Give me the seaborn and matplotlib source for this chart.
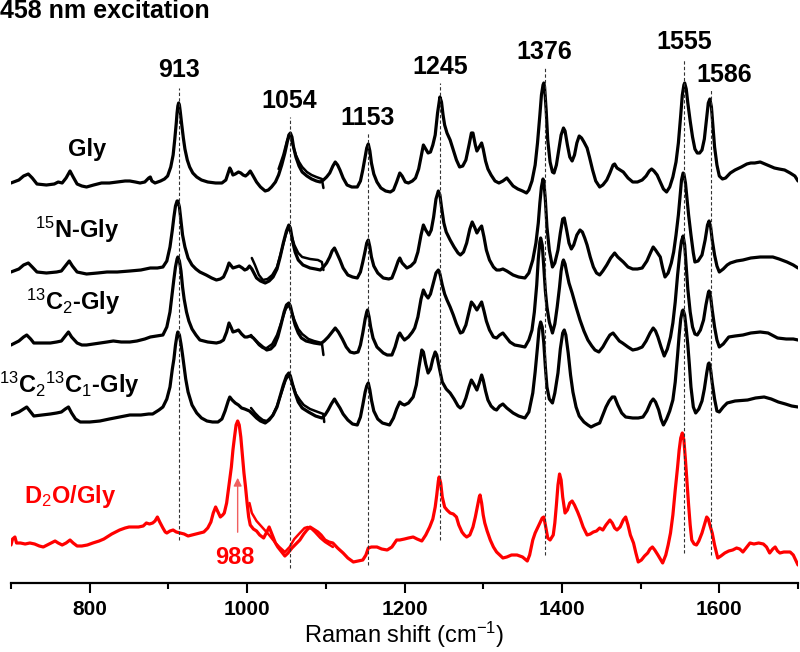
import numpy as np
import matplotlib
matplotlib.use("Agg")
import matplotlib.pyplot as plt
from matplotlib.ticker import MultipleLocator
import seaborn as sns

# Spectra: (Raman shift in cm-1, intensity in a.u.)
gly = [(700,12),(710,15),(716,19),(722,21),(727,17),(733,11),(745,10),(755,11),(760,13),(765,12),
       (770,17),(775,24),(779,18),(784,11),(790,9),(796,8),(805,10),(815,12),(825,12),(835,13),
       (845,14),(851,14),(858,13),(864,12),(870,13),(875,17),(877,18),(879,14),(883,12),(890,14),
       (895,16),(899,19),(903,28),(906,40),(908,55),(910,72),(911,82),(912,89),(913,92),(914,90),
       (915,84),(917,70),(919,57),(921,46),(924,35),(927,28),(931,22),(936,18),(942,15),(950,13),
       (960,12),(968,12),(973,15),(976,22),(978,27),(980,24),(982,20),(985,21),(989,23),(992,22),
       (995,20),(998,19),(1001,21),(1004,24),(1007,20),(1012,13),(1017,8),(1023,4),(1027,5),
       (1031,8),(1036,13),(1040,20),(1044,30),(1048,42),(1051,53),(1053,60),(1055,62),(1057,58),
       (1059,48),(1062,38),(1066,29),(1070,23),(1076,19),(1082,16),(1088,14),(1093,13),(1097,15),
       (1101,18),(1105,22),(1109,29),(1112,33),(1115,30),(1118,25),(1122,17),(1127,10),(1133,8),
       (1140,8),(1144,14),(1147,25),(1150,38),(1152,47),(1154,51),(1156,44),(1158,32),(1161,21),
       (1165,13),(1170,7),(1176,4),(1182,3),(1186,5),(1190,13),(1194,22),(1197,19),(1201,13),
       (1205,12),(1210,14),(1214,17),(1218,26),(1221,38),(1224,50),(1227,46),(1230,42),(1233,43),
       (1236,50),(1239,60),(1242,82),(1245,98),(1247,93),(1249,80),(1251,70),(1254,62),(1258,55),
       (1262,45),(1266,35),(1270,28),(1274,29),(1278,35),(1282,50),(1285,62),(1287,62),(1290,50),
       (1292,44),(1295,48),(1298,52),(1300,46),(1303,34),(1306,26),(1310,20),(1315,14),(1320,12),
       (1325,14),(1330,17),(1334,13),(1338,9),(1344,6),(1350,4),(1355,2),(1358,5),(1362,14),
       (1366,30),(1369,52),(1372,80),(1374,100),(1376,110),(1377,112),(1378,108),(1380,85),
       (1382,55),(1385,33),(1388,23),(1390,22),(1393,30),(1396,45),(1399,60),(1402,67),(1404,64),
       (1407,50),(1410,38),(1413,34),(1416,40),(1419,52),(1422,59),(1425,57),(1428,53),(1432,47),
       (1435,38),(1439,25),(1443,14),(1448,8),(1452,10),(1457,15),(1461,22),(1465,30),(1467,31),
       (1470,27),(1474,25),(1478,23),(1484,17),(1490,13),(1496,13),(1502,15),(1507,19),(1511,24),
       (1514,26),(1517,24),(1521,20),(1525,13),(1529,6),(1533,3),(1537,8),(1541,18),(1545,33),
       (1548,52),(1551,80),(1553,100),(1555,110),(1556,112),(1558,106),(1560,92),(1563,74),
       (1566,58),(1569,46),(1572,42),(1575,42),(1578,45),(1581,56),(1584,78),(1586,92),(1588,96),
       (1590,88),(1592,68),(1594,48),(1597,30),(1600,19),(1604,16),(1608,17),(1614,22),(1620,25),
       (1628,28),(1635,31),(1640,32),(1645,32),(1652,33),(1658,31),(1664,29),(1670,27),(1676,26),
       (1683,25),(1690,22),(1696,19),(1700,14)]
gly_overlap = [(1040,26),(1046,40),(1051,55),(1054,60),(1058,50),(1062,40),(1066,33),(1070,28),
               (1076,23),(1082,20),(1088,18),(1095,16),(1097,7)]

n15_gly = [(700,13),(710,16),(716,20),(722,22),(727,18),(733,13),(745,12),(758,13),(764,14),(769,19),
           (774,24),(778,19),(784,13),(790,12),(796,11),(810,12),(822,13),(835,13),(851,14),(865,15),
           (877,17),(886,17),(893,18),(898,24),(902,38),(905,55),(907,68),(909,79),(911,84),(912,84),
           (914,78),(916,64),(918,50),(921,38),(925,27),(930,20),(935,16),(940,13),(948,10),(955,7),
           (961,5),(966,6),(970,8),(974,15),(977,22),(980,19),(982,17),(986,18),(990,19),(994,17),
           (997,15),(1000,16),(1003,19),(1006,16),(1012,7),(1017,4),(1023,2),(1028,4),(1033,8),
           (1038,16),(1042,28),(1046,42),(1050,54),(1053,60),(1055,57),(1058,43),(1061,33),(1065,25),
           (1071,20),(1080,17),(1087,16),(1093,15),(1097,18),(1101,22),(1105,28),(1108,34),(1111,37),
           (1114,32),(1118,25),(1122,17),(1128,10),(1134,8),(1140,7),(1144,13),(1147,23),(1150,34),
           (1152,42),(1154,45),(1156,38),(1158,28),(1161,19),(1166,12),(1173,7),(1180,6),(1184,7),
           (1188,15),(1192,24),(1194,27),(1197,22),(1203,17),(1208,19),(1213,23),(1217,33),(1221,50),
           (1224,60),(1227,55),(1231,50),(1234,55),(1237,68),(1240,86),(1243,94),(1245,90),(1247,78),
           (1250,62),(1253,53),(1258,45),(1263,38),(1268,32),(1271,30),(1275,33),(1279,42),(1283,56),
           (1286,63),(1289,58),(1292,52),(1295,56),(1298,59),(1301,48),(1304,35),(1308,25),(1313,18),
           (1317,15),(1321,15),(1325,16),(1330,14),(1338,10),(1345,8),(1353,7),(1358,12),(1363,25),
           (1367,42),(1370,62),(1372,82),(1374,98),(1376,106),(1377,104),(1379,85),(1381,58),
           (1384,35),(1388,18),(1391,22),(1395,35),(1398,52),(1401,66),(1403,67),(1406,55),(1409,42),
           (1412,36),(1415,40),(1419,50),(1423,55),(1426,53),(1429,47),(1432,40),(1436,28),(1440,18),
           (1444,12),(1448,10),(1452,14),(1457,20),(1462,27),(1467,32),(1471,28),(1478,23),(1484,18),
           (1490,16),(1496,16),(1502,17),(1508,24),(1513,33),(1516,38),(1519,35),(1525,28),(1528,17),
           (1531,8),(1535,12),(1539,22),(1542,33),(1545,50),(1548,70),(1550,88),(1552,105),(1554,112),
           (1555,111),(1557,102),(1559,86),(1561,70),(1564,50),(1567,32),(1569,23),(1573,24),
           (1578,30),(1582,45),(1585,60),(1587,64),(1589,58),(1591,45),(1594,30),(1597,19),(1600,13),
           (1605,16),(1610,20),(1614,22),(1622,24),(1630,25),(1640,27),(1652,28),(1660,28),(1668,28),
           (1676,26),(1686,23),(1694,20),(1700,17)]
n15_overlap = [(1006,27),(1010,20),(1015,10),(1020,5),(1026,6),(1032,10),(1038,18),(1044,35),
               (1049,50),(1053,58),(1057,48),(1060,40),(1065,32),(1070,28),(1080,26),(1090,25),
               (1095,23),(1097,15)]

c13_gly = [(700,12),(710,16),(716,20),(720,22),(725,18),(729,14),(740,14),(750,14),(758,15),(764,16),
           (769,21),(773,25),(777,20),(784,14),(790,12),(796,12),(805,13),(813,14),(822,15),(830,16),
           (840,15),(851,15),(860,16),(870,18),(877,20),(885,21),(893,22),(898,30),(902,45),(905,65),
           (907,78),(909,90),(911,98),(912,100),(914,96),(916,86),(918,70),(920,58),(923,45),(926,36),
           (930,28),(935,22),(940,17),(950,15),(961,14),(966,15),(970,17),(974,25),(977,34),(980,29),
           (982,25),(986,26),(989,27),(993,23),(997,20),(1000,20),(1004,21),(1008,19),(1014,14),
           (1020,10),(1025,7),(1030,8),(1035,12),(1039,20),(1043,32),(1047,45),(1050,52),(1053,54),
           (1055,51),(1058,41),(1061,32),(1065,24),(1069,19),(1075,16),(1085,14),(1093,13),(1098,16),
           (1103,20),(1108,25),(1112,29),(1116,25),(1121,18),(1126,10),(1131,5),(1136,4),(1141,5),
           (1144,12),(1147,24),(1150,38),(1152,45),(1153,47),(1155,40),(1157,30),(1160,19),(1165,10),
           (1173,4),(1178,2),(1184,2),(1188,10),(1192,21),(1194,24),(1197,20),(1200,17),(1205,20),
           (1210,25),(1213,29),(1217,40),(1221,58),(1224,67),(1227,62),(1230,59),(1233,63),(1237,75),
           (1240,84),(1243,87),(1245,83),(1248,72),(1251,63),(1254,57),(1258,50),(1262,42),(1266,33),
           (1271,24),(1274,25),(1278,32),(1282,45),(1285,55),(1288,52),(1292,47),(1295,51),(1298,55),
           (1301,46),(1304,36),(1308,27),(1313,20),(1317,19),(1321,22),(1325,24),(1329,20),(1334,15),
           (1340,12),(1347,11),(1353,10),(1358,17),(1362,27),(1365,45),(1368,72),(1370,98),(1372,115),
           (1373,119),(1375,112),(1377,90),(1379,66),(1381,50),(1384,35),(1388,24),(1391,33),
           (1394,50),(1397,70),(1399,86),(1401,95),(1402,97),(1404,93),(1406,85),(1409,74),(1413,64),
           (1418,50),(1423,37),(1428,26),(1433,17),(1438,11),(1442,7),(1447,5),(1452,10),(1457,17),
           (1461,22),(1465,24),(1469,20),(1473,16),(1477,14),(1484,10),(1490,7),(1496,8),(1502,10),
           (1507,16),(1512,24),(1516,29),(1519,26),(1522,20),(1526,10),(1530,1),(1534,8),(1538,20),
           (1541,34),(1544,55),(1547,82),(1550,105),(1552,116),(1554,121),(1556,112),(1558,90),
           (1560,68),(1563,45),(1566,30),(1569,23),(1572,22),(1576,27),(1580,37),(1583,52),(1586,64),
           (1587,66),(1589,60),(1591,47),(1594,30),(1597,17),(1600,10),(1605,13),(1612,20),(1620,21),
           (1630,22),(1640,24),(1652,25),(1662,24),(1674,19),(1685,18),(1694,18),(1700,17)]
c13_overlap = [(1005,22),(1010,17),(1015,12),(1020,9),(1025,9),(1032,13),(1038,22),(1044,36),
               (1049,48),(1053,52),(1057,44),(1060,37),(1065,28),(1070,23),(1078,18),(1085,16),
               (1095,14),(1097,2)]

c13c13_gly = [(700,12),(710,15),(716,18),(720,20),(725,15),(729,11),(740,12),(750,13),(758,14),
              (764,15),(769,18),(773,20),(777,14),(782,8),(788,5),(800,5),(813,6),(825,8),(838,10),
              (851,12),(865,12),(875,13),(880,13),(888,17),(893,20),(898,28),(902,40),(905,58),
              (907,68),(909,82),(911,92),(912,95),(914,92),(916,83),(918,72),(920,60),(922,48),
              (925,35),(930,22),(936,14),(942,9),(949,6),(956,5),(963,5),(968,8),(972,16),(976,26),
              (978,30),(981,27),(985,24),(989,22),(993,19),(997,18),(1000,17),(1003,16),(1007,13),
              (1012,9),(1017,6),(1023,4),(1028,7),(1033,12),(1038,20),(1042,31),(1046,42),(1050,51),
              (1053,54),(1055,51),(1058,42),(1061,34),(1065,25),(1070,19),(1078,15),(1087,11),
              (1095,9),(1099,12),(1103,17),(1107,23),(1111,28),(1114,24),(1118,19),(1122,13),
              (1128,7),(1134,3),(1140,2),(1144,10),(1147,22),(1150,35),(1152,41),(1154,44),(1156,37),
              (1158,27),(1161,16),(1166,8),(1172,4),(1181,2),(1186,9),(1190,18),(1194,25),(1197,23),
              (1200,22),(1205,24),(1211,30),(1215,42),(1218,58),(1222,77),(1224,75),(1227,63),
              (1230,54),(1233,58),(1236,68),(1239,75),(1241,72),(1244,60),(1248,45),(1253,38),
              (1258,34),(1263,28),(1268,21),(1271,19),(1274,21),(1278,29),(1282,40),(1285,47),
              (1288,43),(1292,37),(1295,44),(1298,52),(1300,47),(1303,36),(1306,27),(1310,21),
              (1314,18),(1317,17),(1321,21),(1325,23),(1330,19),(1338,14),(1345,11),(1353,9),
              (1358,15),(1363,34),(1366,55),(1369,80),(1371,98),(1373,105),(1375,100),(1377,84),
              (1379,60),(1381,40),(1384,28),(1388,24),(1391,34),(1395,54),(1398,78),(1401,94),
              (1403,97),(1405,92),(1408,74),(1411,52),(1414,35),(1418,20),(1422,11),(1428,5),
              (1433,2),(1437,0),(1442,2),(1448,4),(1452,12),(1456,20),(1460,26),(1464,30),(1467,30),
              (1471,22),(1476,14),(1481,10),(1490,9),(1497,9),(1503,10),(1508,16),(1513,25),
              (1516,28),(1519,25),(1523,17),(1526,8),(1529,2),(1533,8),(1537,16),(1541,27),
              (1544,45),(1547,72),(1549,92),(1551,108),(1553,116),(1554,117),(1556,112),(1558,98),
              (1560,82),(1562,62),(1564,40),(1567,20),(1570,14),(1574,18),(1578,26),(1581,38),
              (1584,54),(1586,63),(1587,64),(1589,57),(1591,44),(1594,28),(1597,16),(1600,15),
              (1605,20),(1610,24),(1620,26),(1636,27),(1646,29),(1657,30),(1666,28),(1675,25),
              (1684,23),(1692,21),(1700,20)]
c13c13_overlap = [(1005,19),(1010,14),(1015,10),(1020,7),(1025,6),(1032,11),(1038,21),(1044,35),
                  (1049,47),(1053,52),(1057,44),(1062,33),(1067,27),(1072,22),(1080,18),(1090,15),
                  (1097,13),(1098,5)]

d2o_gly = [(700,20),(702,26),(705,28),(707,22),(712,22),(718,21),(724,22),(730,21),(736,19),(741,18),
           (746,20),(751,22),(756,24),(760,22),(765,20),(770,22),(775,25),(779,22),(784,19),(790,19),
           (797,20),(804,22),(812,24),(818,26),(822,28),(828,31),(833,33),(838,35),(845,37),(850,38),
           (855,38),(862,38),(868,39),(872,42),(876,41),(880,42),(883,44),(886,48),(889,43),(893,37),
           (896,33),(898,32),(902,34),(906,35),(910,33),(915,32),(920,31),(925,29),(930,30),(935,31),
           (940,32),(945,33),(950,37),(954,43),(957,52),(960,58),(963,53),(966,48),(969,50),(971,52),
           (974,62),(977,80),(980,98),(982,115),(984,128),(986,140),(988,144),(990,140),(992,128),
           (994,110),(996,92),(998,78),(1000,62),(1002,48),(1004,40),(1008,36),(1012,34),(1016,30),
           (1021,27),(1025,33),(1028,38),(1030,34),(1033,28),(1036,22),(1039,18),(1043,14),(1048,9),
           (1052,12),(1057,17),(1062,21),(1067,25),(1072,31),(1076,35),(1080,38),(1084,36),(1090,33),
           (1094,30),(1099,25),(1104,23),(1109,22),(1115,17),(1122,12),(1128,7),(1135,3),(1141,4),
           (1147,5),(1151,10),(1154,17),(1158,18),(1165,18),(1171,16),(1178,15),(1184,18),(1190,25),
           (1194,25),(1200,26),(1205,27),(1211,28),(1216,26),(1222,24),(1227,30),(1232,38),(1236,46),
           (1239,58),(1241,70),(1243,84),(1244,88),(1246,82),(1248,68),(1251,58),(1254,55),(1258,52),
           (1262,51),(1266,48),(1269,40),(1273,33),(1276,30),(1279,28),(1283,30),(1287,38),(1290,48),
           (1293,60),(1295,68),(1296,70),(1298,62),(1300,50),(1302,42),(1305,34),(1309,25),(1313,18),
           (1317,13),(1321,10),(1325,7),(1330,8),(1336,10),(1343,10),(1350,8),(1356,4),(1359,10),
           (1363,25),(1366,32),(1369,37),(1372,42),(1375,47),(1377,48),(1379,40),(1382,27),(1385,25),
           (1389,30),(1391,42),(1393,60),(1395,80),(1397,91),(1399,85),(1401,68),(1404,52),(1407,55),
           (1410,62),(1413,64),(1416,60),(1420,53),(1423,47),(1427,38),(1432,30),(1436,31),(1440,33),
           (1444,34),(1448,37),(1452,35),(1456,40),(1461,45),(1464,42),(1467,37),(1470,35),(1474,38),
           (1478,45),(1481,48),(1484,40),(1487,30),(1491,22),(1494,12),(1497,3),(1501,5),(1505,9),
           (1509,12),(1512,16),(1515,18),(1518,15),(1522,10),(1525,6),(1528,2),(1532,10),(1535,20),
           (1538,32),(1541,50),(1544,75),(1547,98),(1549,115),(1551,127),(1553,132),(1555,125),
           (1557,105),(1559,82),(1561,60),(1563,40),(1565,25),(1568,21),(1571,20),(1574,24),(1578,32),
           (1581,40),(1584,48),(1586,46),(1588,40),(1591,32),(1594,20),(1598,7),(1602,9),(1607,12),
           (1612,14),(1617,15),(1622,17),(1626,16),(1630,13),(1635,18),(1639,22),(1644,21),(1650,22),
           (1656,21),(1660,18),(1664,12),(1668,16),(1671,18),(1674,14),(1677,12),(1682,13),(1686,13),
           (1690,13),(1694,10),(1697,5),(1700,0)]
d2o_overlap = [(1003,62),(1006,52),(1012,44),(1020,37),(1028,30),(1035,23),(1041,18),(1048,13),
               (1054,18),(1060,26),(1067,32),(1073,37),(1077,38),(1082,36),(1086,33),(1093,27),
               (1099,23),(1109,18)]

peak_labels = ["913", "1054", "1153", "1245", "1376", "1555", "1586"]
peak_lines = [913, 1054, 1153, 1245, 1379, 1555, 1589]

spectra = [gly, n15_gly, c13_gly, c13c13_gly, d2o_gly]
overlaps = [gly_overlap, n15_overlap, c13_overlap, c13c13_overlap, d2o_overlap]

# layout (axis units = pixels above the x axis)
offsets = [388, 298, 226, 156, 18]
colors = ["black", "black", "black", "black", "#ff0000"]

sns.set_style("ticks")
plt.rcParams["font.family"] = ["Liberation Sans", "DejaVu Sans"]
plt.rcParams["text.color"] = "black"
plt.rcParams["axes.labelcolor"] = "black"
plt.rcParams["xtick.color"] = "black"
plt.rcParams["axes.edgecolor"] = "black"
plt.rcParams["mathtext.fontset"] = "custom"
plt.rcParams["mathtext.rm"] = "Liberation Sans:bold"
plt.rcParams["mathtext.bf"] = "Liberation Sans:bold"
plt.rcParams["mathtext.default"] = "rm"

fig = plt.figure(figsize=(8, 6.52), dpi=100)
ax = fig.add_axes([11/800, 1 - 583/652, 787/800, 583/652])

for spec, ovl, off, col in zip(spectra, overlaps, offsets, colors):
    x, y = np.array(spec).T
    sns.lineplot(x=x, y=y + off, color=col, lw=2.3, ax=ax, estimator=None, sort=False)
    xo, yo = np.array(ovl).T
    sns.lineplot(x=xo, y=yo + off, color=col, lw=1.8, ax=ax, estimator=None, sort=False)

# dashed marker lines and labels
line_tops = [495, 466, 450, 500, 515, 523, 493]
line_bots = [43, 15, 18, 43, 28, 30, 28]
label_x = [913, 1054, 1153, 1245, 1377, 1555, 1606]
label_y = [513, 482, 465, 516, 531, 541, 508]
for pos, top, bot in zip(peak_lines, line_tops, line_bots):
    ax.plot([pos, pos], [bot, top], ls=(0, (3, 2)), color="#333333", lw=0.8)
for lab, lx, ly in zip(peak_labels, label_x, label_y):
    ax.text(lx, ly, lab, ha="center", va="center", fontsize=18, fontweight="bold")

# spectrum names
ax.text(797, 433, "Gly", ha="center", va="center", fontsize=17, fontweight="bold")
ax.text(784, 353, r"$^{15}$N-Gly", ha="center", va="center", fontsize=17, fontweight="bold")
ax.text(779, 281, r"$^{13}$C$_2$-Gly", ha="center", va="center", fontsize=17, fontweight="bold")
ax.text(774, 198, r"$^{13}$C$_2$$^{13}$C$_1$-Gly", ha="center", va="center", fontsize=17,
        fontweight="bold")
ax.text(775, 86, r"D$_2$O/Gly", ha="center", va="center", fontsize=17, fontweight="bold",
        color="#ff0000")
ax.text(985, 25, "988", ha="center", va="center", fontsize=17, fontweight="bold", color="#ff0000")
ax.annotate("", xy=(988, 108), xytext=(988, 48),
            arrowprops=dict(arrowstyle="-|>", color="#f06060", lw=1.0, mutation_scale=12))

fig.text(0.0, 1 - 11/652, "458 nm excitation", ha="left", va="center", fontsize=18,
         fontweight="bold")

ax.set_xlim(700, 1700)
ax.set_ylim(0, 583)
ax.set_yticks([])
for s in ["left", "top", "right"]:
    ax.spines[s].set_visible(False)
ax.spines["bottom"].set_linewidth(1.6)
ax.xaxis.set_major_locator(MultipleLocator(200))
ax.xaxis.set_minor_locator(MultipleLocator(100))
ax.tick_params(axis="x", which="major", length=7, width=1.5, direction="out", pad=5)
ax.tick_params(axis="x", which="minor", length=4, width=1.5, direction="out")
for lbl in ax.get_xticklabels():
    lbl.set_fontweight("bold")
    lbl.set_fontsize(15)
ax.set_xlabel("Raman shift (cm$^{-1}$)", fontsize=17, va="center")
ax.xaxis.set_label_coords(0.5, -0.089)
plt.rcParams["mathtext.rm"] = "Liberation Sans"

fig.savefig("out.png", dpi=100)
